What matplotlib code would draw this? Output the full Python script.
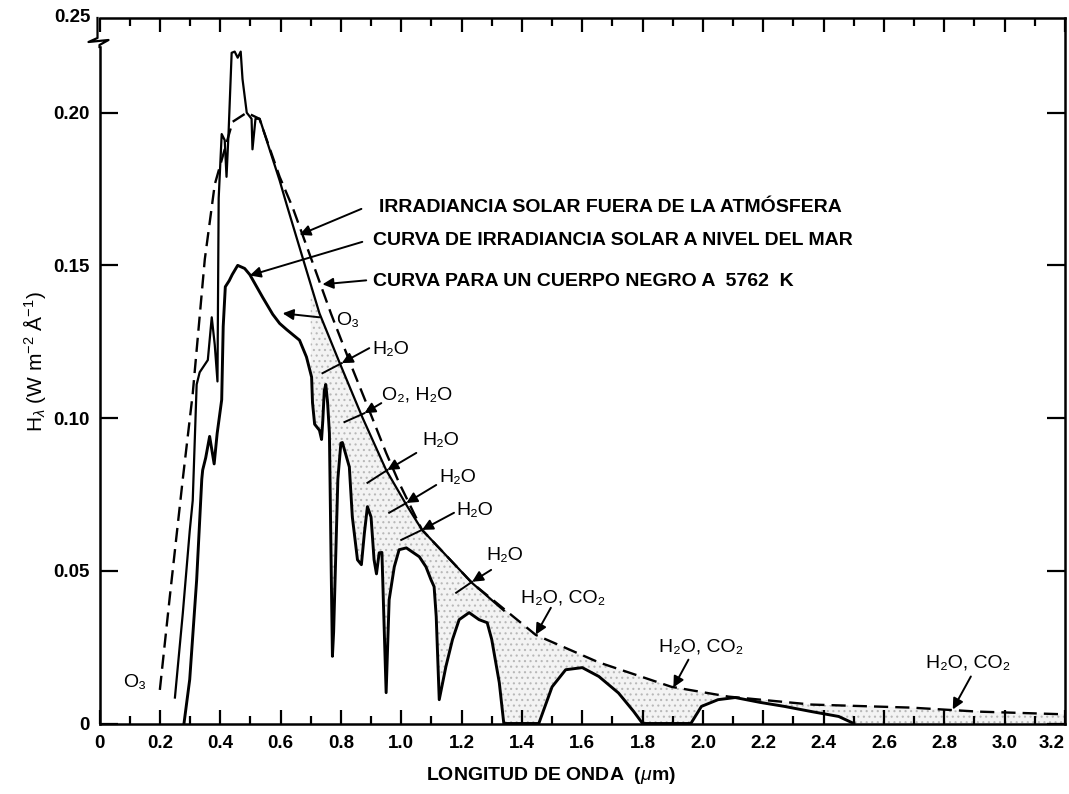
import numpy as np
import matplotlib
matplotlib.use("Agg")
import matplotlib.pyplot as plt

plt.rcParams['font.family'] = ['Liberation Sans', 'DejaVu Sans']
plt.rcParams['mathtext.fontset'] = 'custom'
plt.rcParams['mathtext.rm'] = 'Liberation Sans'
plt.rcParams['mathtext.it'] = 'Liberation Sans:italic'
plt.rcParams['mathtext.bf'] = 'Liberation Sans:bold'
plt.rcParams['hatch.color'] = '#b8b8b8'
plt.rcParams['hatch.linewidth'] = 0.8

# ---------------- data ----------------
# Black body at 5762 K (dashed)
bb_x = [0.20, 0.233, 0.276, 0.309, 0.349, 0.382, 0.415, 0.441, 0.488, 0.53, 0.597,
        0.64, 0.706, 0.768, 0.835, 0.888, 0.95, 0.993, 1.069, 1.235, 1.446, 1.655,
        1.896, 2.085, 2.36, 2.69, 2.91, 3.2]
bb_y = [0.011, 0.0415, 0.080, 0.108, 0.152, 0.1765, 0.188, 0.197, 0.200, 0.198, 0.179,
        0.169, 0.151, 0.134, 0.117, 0.104, 0.0886, 0.0788, 0.0634, 0.046, 0.029, 0.020,
        0.012, 0.0088, 0.0062, 0.0052, 0.0039, 0.003]

# Solar irradiance outside the atmosphere (thin solid)
ex_x = [0.25, 0.276, 0.299, 0.309, 0.322, 0.332, 0.359, 0.372, 0.382, 0.391, 0.395,
        0.405, 0.415, 0.421, 0.428, 0.438, 0.448, 0.458, 0.468, 0.474, 0.488, 0.504,
        0.507, 0.517, 0.531, 0.597, 0.62, 0.673, 0.729, 0.795, 0.871, 0.950, 1.017,
        1.069, 1.235, 1.34]
ex_y = [0.0085, 0.036, 0.063, 0.073, 0.111, 0.115, 0.119, 0.133, 0.124, 0.112, 0.172,
        0.193, 0.191, 0.179, 0.194, 0.2196, 0.220, 0.218, 0.220, 0.211, 0.200, 0.198,
        0.188, 0.198, 0.198, 0.1778, 0.170, 0.1526, 0.1343, 0.1183, 0.1003, 0.083, 0.0716,
        0.0634, 0.046, 0.037]

# Solar irradiance at sea level (thick solid)
sl_x = [0.28, 0.299, 0.322, 0.339, 0.342, 0.352, 0.365, 0.38, 0.39, 0.405, 0.41, 0.417,
        0.43, 0.44, 0.458, 0.481, 0.498, 0.541, 0.574, 0.597, 0.62, 0.663, 0.686, 0.703,
        0.706, 0.713, 0.729, 0.736, 0.74, 0.745, 0.75, 0.756, 0.762, 0.768, 0.772, 0.776,
        0.79, 0.80, 0.805, 0.828, 0.838, 0.855, 0.868, 0.878, 0.888, 0.90, 0.91, 0.918,
        0.927, 0.936, 0.944, 0.95, 0.96, 0.977, 0.993, 1.017, 1.06, 1.082, 1.099, 1.109,
        1.116, 1.126, 1.148, 1.17, 1.192, 1.225, 1.258, 1.285, 1.30, 1.325, 1.34, 1.456,
        1.50, 1.545, 1.60, 1.655, 1.72, 1.77, 1.80, 1.96, 1.995, 2.05, 2.107, 2.19, 2.27,
        2.36, 2.45, 2.5]
sl_y = [0.0, 0.0144, 0.047, 0.080, 0.083, 0.087, 0.094, 0.085, 0.095, 0.106, 0.130, 0.143,
        0.145, 0.147, 0.150, 0.149, 0.147, 0.1395, 0.134, 0.131, 0.129, 0.1255, 0.120, 0.1134,
        0.105, 0.098, 0.096, 0.093, 0.099, 0.109, 0.111, 0.105, 0.095, 0.05, 0.022, 0.03,
        0.08, 0.0918, 0.092, 0.084, 0.0676, 0.0536, 0.052, 0.0624, 0.071, 0.0676, 0.0536, 0.049,
        0.0559, 0.056, 0.0297, 0.0101, 0.0405, 0.0513, 0.0569, 0.0575, 0.0546, 0.0513, 0.047, 0.0448,
        0.035, 0.0078, 0.0186, 0.0275, 0.034, 0.0363, 0.034, 0.033, 0.0275, 0.0134, 0.0, 0.0,
        0.012, 0.0176, 0.0183, 0.0154, 0.010, 0.004, 0.0, 0.0, 0.0056, 0.0078, 0.0085, 0.0069, 0.0056,
        0.0039, 0.0023, 0.0]

x_major = [0, 0.2, 0.4, 0.6, 0.8, 1.0, 1.2, 1.4, 1.6, 1.8, 2.0, 2.2, 2.4, 2.6, 2.8, 3.0, 3.2]
x_labels = ['0', '0.2', '0.4', '0.6', '0.8', '1.0', '1.2', '1.4', '1.6', '1.8', '2.0',
            '2.2', '2.4', '2.6', '2.8', '3.0', '3.2']
y_major = [0, 0.05, 0.10, 0.15, 0.20]
y_labels = ['0', '0.05', '0.10', '0.15', '0.20']
y_top_label = '0.25'
bb_temp = 5762

# ---------------- figure ----------------
W, H = 1069, 794
fig = plt.figure(figsize=(W / 100, H / 100), dpi=100)
ax_l, ax_r, ax_b, ax_t = 99.5 / W, 1065 / W, 1 - 723.5 / H, 1 - 18 / H
ax = fig.add_axes([ax_l, ax_b, ax_r - ax_l, ax_t - ax_b])
ax.set_xlim(0, 3.2)
ax.set_ylim(0, 0.231)

# stippled shading between outer curve and sea-level curve
grid = np.linspace(0.70, 3.2, 1200)
outer = np.interp(grid, ex_x, ex_y)
outer = np.where(grid > ex_x[-1], np.interp(grid, bb_x, bb_y), outer)
lower = np.interp(grid, sl_x, sl_y, right=0.0)
ax.fill_between(grid, lower, outer, where=outer > lower, facecolor='#f3f3f3',
                edgecolor='none', hatch='...', linewidth=0, zorder=1)

ax.plot(bb_x, bb_y, color='black', lw=1.7, linestyle=(0, (6, 3)), zorder=3)
ax.plot(ex_x, ex_y, color='black', lw=1.6, zorder=3)
ax.plot(sl_x, sl_y, color='black', lw=2.1, zorder=4)

# ticks
ax.set_xticks(x_major)
ax.set_xticklabels(x_labels)
ax.set_xticks(np.arange(0.1, 3.2, 0.2), minor=True)
ax.set_yticks(y_major)
ax.set_yticklabels(y_labels)
ax.tick_params(axis='x', which='major', direction='in', length=10, width=1.6,
               top=True, bottom=True, pad=8, labelsize=13.5)
ax.tick_params(axis='x', which='minor', direction='in', length=6, width=1.6,
               top=True, bottom=True)
ax.tick_params(axis='y', which='major', direction='in', length=13, width=1.6,
               left=True, right=True, pad=7, labelsize=13.5)
for lab in ax.get_xticklabels() + ax.get_yticklabels():
    lab.set_fontweight('bold')
ax.get_xticklabels()[-1].set_horizontalalignment('right')

for s in ['top', 'right', 'bottom']:
    ax.spines[s].set_linewidth(1.8)
ax.spines['left'].set_visible(False)

# left spine with axis break
tr = ax.transAxes
dx = 1.0 / (1065 - 99.5)
dy = 1.0 / (723.5 - 18)
brk = 1 - (43 - 18) * dy
ax.plot([0, 0], [0, brk - 4 * dy], color='black', lw=1.8, transform=tr, clip_on=False)
ax.plot([-2 * dx, -2 * dx, -11 * dx, 9 * dx, 0, 0],
        [1, brk + 5 * dy, brk + 1 * dy, brk + 3 * dy, brk - 2 * dy, brk - 4 * dy],
        color='black', lw=1.6, transform=tr, clip_on=False)
ax.text(-9 * dx, 1.0, y_top_label, transform=tr, ha='right', va='center',
        fontsize=13.5, fontweight='bold')

# axis labels
fig.text(551 / W, 1 - 775 / H, r'LONGITUD DE ONDA  ($\mu$m)', ha='center', va='center',
         fontsize=14, fontweight='bold')
fig.text(35 / W, 1 - 362 / H, r'H$_{\lambda}$ (W m$^{-2}$ Å$^{-1}$)', ha='center',
         va='center', rotation=90, fontsize=15)

# ---------------- annotations ----------------
arrow = dict(arrowstyle='-|>', color='black', lw=1.4, mutation_scale=16,
             shrinkA=0, shrinkB=0)
big = dict(fontsize=14, fontweight='bold', va='center', ha='left')
ax.text(0.927, 0.169, 'IRRADIANCIA SOLAR FUERA DE LA ATMÓSFERA', **big)
ax.annotate('', xy=(0.663, 0.160), xytext=(0.868, 0.1685), arrowprops=arrow)
ax.text(0.905, 0.158, 'CURVA DE IRRADIANCIA SOLAR A NIVEL DEL MAR', **big)
ax.annotate('', xy=(0.498, 0.1467), xytext=(0.871, 0.1577), arrowprops=arrow)
ax.text(0.905, 0.1448, f'CURVA PARA UN CUERPO NEGRO A  {bb_temp}  K', **big)
ax.annotate('', xy=(0.739, 0.1438), xytext=(0.884, 0.1451), arrowprops=arrow)

small = dict(fontsize=14, va='center', ha='left')
ax.text(0.785, 0.132, 'O₃', **small)
ax.annotate('', xy=(0.607, 0.1343), xytext=(0.729, 0.133), arrowprops=arrow)

crossing = [
    ('H₂O', (0.905, 0.1225), (0.894, 0.1229), (0.803, 0.118), (0.739, 0.1147)),
    ('O₂, H₂O', (0.937, 0.1075), (0.934, 0.1049), (0.878, 0.1016), (0.812, 0.0987)),
    ('H₂O', (1.069, 0.0925), (1.050, 0.0886), (0.954, 0.083), (0.888, 0.0788)),
    ('H₂O', (1.126, 0.0807), (1.116, 0.0781), (1.017, 0.0722), (0.96, 0.069)),
    ('H₂O', (1.182, 0.0699), (1.175, 0.069), (1.069, 0.0634), (1.0, 0.0601)),
    ('H₂O', (1.281, 0.0549), (1.298, 0.0503), (1.235, 0.0464), (1.182, 0.0428)),
]
for txt, tpos, start, head, end in crossing:
    ax.text(tpos[0], tpos[1], txt, **small)
    ax.annotate('', xy=head, xytext=start, arrowprops=arrow, zorder=5)
    ax.plot([head[0], end[0]], [head[1], end[1]], color='black', lw=1.4, zorder=5)

pointers = [
    ('H₂O, CO₂', (1.397, 0.0412), (1.496, 0.0379), (1.446, 0.0291)),
    ('H₂O, CO₂', (1.853, 0.0252), (1.952, 0.0209), (1.902, 0.0118)),
    ('H₂O, CO₂', (2.739, 0.0199), (2.888, 0.0154), (2.828, 0.0046)),
]
for txt, tpos, start, tip in pointers:
    ax.text(tpos[0], tpos[1], txt, **small)
    ax.annotate('', xy=tip, xytext=start, arrowprops=arrow, zorder=5)

ax.text(0.078, 0.0134, 'O₃', **small)

fig.savefig('out.png', dpi=100, facecolor='white')
